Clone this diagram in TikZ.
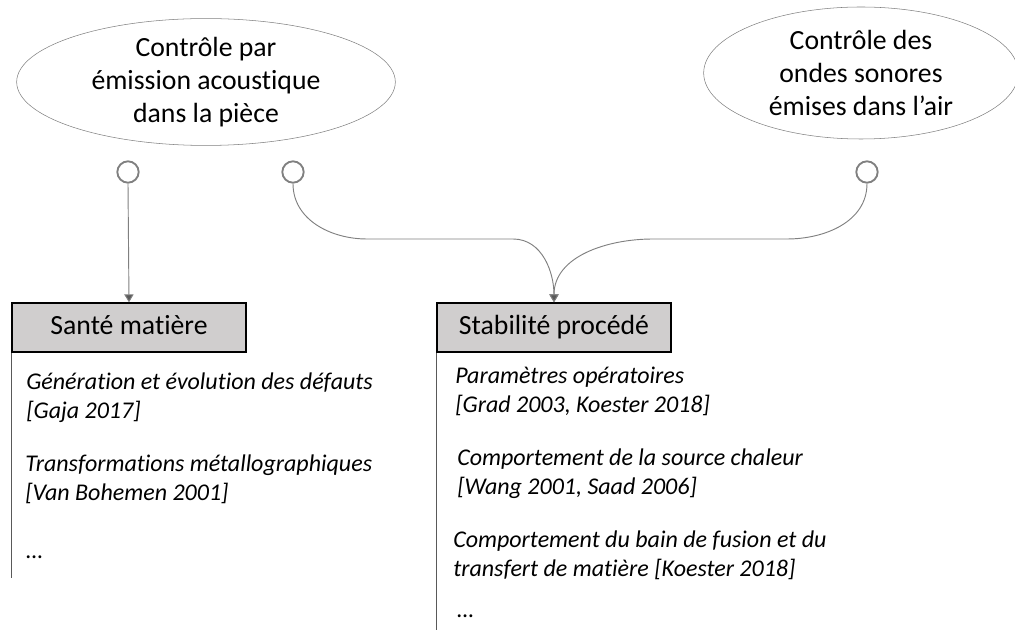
\documentclass[tikz,border=0pt]{standalone}
\usepackage{fontspec}
\setmainfont{Carlito}[Ligatures=NoCommon]
\usetikzlibrary{positioning, shapes, arrows.meta, calc}
\definecolor{LineGray}{RGB}{128, 128, 128}
\definecolor{RailGray}{RGB}{89, 89, 89}
\definecolor{BoxGray}{RGB}{208, 206, 206}

\begin{document}
\begin{tikzpicture}[x=0.75pt, y=-0.75pt,
    source/.style={ellipse, draw=LineGray, thin, inner sep=0pt, align=center,
      font=\fontsize{20.8}{24.75}\selectfont},
    port/.style={circle, draw=LineGray, line width=1.4pt, minimum size=16pt, inner sep=0pt},
    link/.style={LineGray, line width=0.7pt, -{Triangle[width=7pt, length=6pt, fill=RailGray]}},
    header/.style={draw=black, fill=BoxGray, line width=1pt, minimum width=175.5pt,
      minimum height=36.75pt, inner sep=0pt, text height=14.5pt, text depth=4pt,
      font=\fontsize{20.8}{24.75}\selectfont},
    rail/.style={RailGray, line width=1pt},
    item/.style={anchor=west, align=left, inner sep=0pt,
      font=\fontsize{18}{21.75}\selectfont\itshape}]
    \useasboundingbox (0,0) rectangle (1015,630);

    % Sources
    \node[source, minimum width=284pt, minimum height=94.5pt] (emission) at (206,82)
      {Contrôle par\\émission acoustique\\dans la pièce};
    \node[source, minimum width=236pt, minimum height=99pt] (ondes) at (861,73)
      {Contrôle des\\ondes sonores\\émises dans l’air};

    % Ports
    \node[port] (p1) at (128,172) {};
    \node[port] (p2) at (293,172) {};
    \node[port] (p3) at (867,172) {};

    % Headers
    \node[header] (sante) at (129,327.5) {Santé matière};
    \node[header] (stab) at (554,327.5) {Stabilité procédé};

    % Links
    \draw[link] (p1.south) -- (sante.north);
    \draw[link] (p2.south) to[out=-90, in=180] (367,239) -- (513,239)
      to[out=0, in=90] (stab.north);
    \draw[link] (p3.south) to[out=-90, in=0] (787,239) -- (653,239)
      to[out=180, in=90] (stab.north);

    % Rails
    \draw[rail] (sante.south west) -- ++(0,225);
    \draw[rail] (stab.south west) -- ++(0,278);

    % Items - Santé matière
    \node[item] (s1) at (26,397.5) {Génération et évolution des défauts\\{}[Gaja 2017]};
    \node[item] (s2) at (25,479) {Transformations métallographiques\\{}[Van Bohemen 2001]};
    \node[item] (s3) at (26,557) {…};

    % Items - Stabilité procédé
    \node[item] (t1) at (455,391.5) {Paramètres opératoires\\{}[Grad 2003, Koester 2018]};
    \node[item] (t2) at (457,474) {Comportement de la source chaleur\\{}[Wang 2001, Saad 2006]};
    \node[item] (t3) at (453,555) {Comportement du bain de fusion et du\\transfert de matière [Koester 2018]};
    \node[item] (t4) at (457,616) {…};
\end{tikzpicture}
\end{document}
